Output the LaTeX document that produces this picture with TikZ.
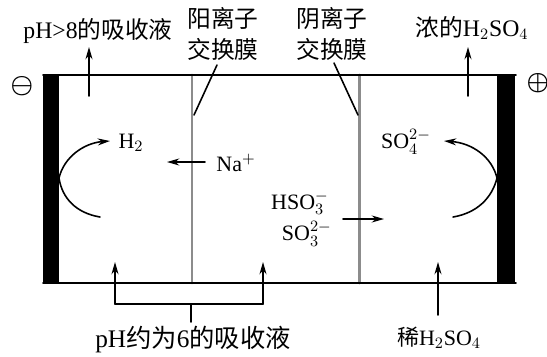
\documentclass[tikz,border=0pt]{standalone}
\usepackage{fontspec}
\setmainfont{Liberation Serif}
\newfontfamily\cjk{Noto Sans CJK SC}
\usetikzlibrary{arrows.meta}
\tikzset{
  flow/.style={line width=0.9pt,-{Stealth[length=7pt,width=4pt]}},
  lbl/.style={font=\fontsize{13.5}{17.6}\selectfont,inner sep=0pt},
  ionlbl/.style={font=\fontsize{12.5}{15}\selectfont,inner sep=0pt},
  membrane/.style={line width=1.7pt,black!45},
  electrode/.style={fill=black}
}
\begin{document}
\begin{tikzpicture}[line cap=round, line join=round, x=0.02cm, y=0.02cm]
                \useasboundingbox (0,0) rectangle (547,356);

                % cell
                \fill[electrode] (43,73) rectangle (59,281);
                \fill[electrode] (497,73) rectangle (515,281);
                \draw[membrane] (192,73) -- (192,281);
                \draw[membrane] (359,73) -- (359,281);
                \draw[line width=1pt] (43,281) -- (516,281);
                \draw[line width=1pt] (43,73) -- (516,73);

                % labels
                \node[lbl] (alkali) at (98,325) {pH>8{\cjk 的吸收液}};
                \node[lbl,align=center] (cation) at (223,322) {{\cjk 阳离子}\\{\cjk 交换膜}};
                \node[lbl,align=center] (anion) at (332,322) {{\cjk 阴离子}\\{\cjk 交换膜}};
                \node[lbl] (acid) at (472,328) {{\cjk 浓的}H$_2$SO$_4$};
                \node[lbl,font=\Large\boldmath] (minus) at (22,270) {$\ominus$};
                \node[lbl,font=\Large\boldmath] (plus) at (538,273) {$\oplus$};
                \node[ionlbl] (hydrogen) at (131,213) {H$_2$};
                \node[ionlbl] (sodium) at (236,193) {Na$^+$};
                \node[ionlbl] (sulfate) at (406,214) {SO$_4^{2-}$};
                \node[ionlbl,anchor=east] (bisulfite) at (329,153) {HSO$_3^-$};
                \node[ionlbl,anchor=east] (sulfite) at (332,122) {SO$_3^{2-}$};
                \node[lbl,font=\fontsize{14.4}{17.6}\selectfont] (feed) at (193,16) {pH{\cjk 约为}6{\cjk 的吸收液}};
                \node[ionlbl] (dilute) at (439,18) {{\cjk 稀}H$_2$SO$_4$};

                % free ends
                \coordinate (a1) at (89,260);
                \coordinate (a2) at (89,309);
                \coordinate (b1) at (468,260);
                \coordinate (b2) at (468,309);
                \coordinate (c1) at (217,291);
                \coordinate (c2) at (194,241);
                \coordinate (d1) at (334,293);
                \coordinate (d2) at (358,241);
                \coordinate (e1) at (205,194);
                \coordinate (e2) at (167,194);
                \coordinate (f1) at (343,137);
                \coordinate (f2) at (384,137);
                \coordinate (g1) at (115,94);
                \coordinate (g2) at (263,94);
                \coordinate (g3) at (115,52);
                \coordinate (g4) at (263,52);
                \coordinate (g5) at (191,52);
                \coordinate (g6) at (191,34);
                \coordinate (h1) at (438,41);
                \coordinate (h2) at (438,94);

                \draw[flow] (a1) -- (a2);
                \draw[flow] (b1) -- (b2);
                \draw[line width=0.9pt] (c1) -- (c2);
                \draw[line width=0.9pt] (d1) -- (d2);
                \draw[flow] (e1) -- (e2);
                \draw[flow] (f1) -- (f2);
                \draw[flow] (g3) -- (g1);
                \draw[flow] (g4) -- (g2);
                \draw[line width=0.9pt] (g3) -- (g4);
                \draw[line width=0.9pt] (g5) -- (g6);
                \draw[flow] (h1) -- (h2);

                % gas and ion curves at the electrodes
                \draw[line width=0.9pt] (100,139) .. controls (76,143) and (62,158) .. (59,178);
                \draw[flow] (59,178) .. controls (64,199) and (84,213) .. (110,215);
                \draw[line width=0.9pt] (453,139) .. controls (477,143) and (492,158) .. (497,178);
                \draw[flow] (497,178) .. controls (492,199) and (472,213) .. (444,215);
                
            \end{tikzpicture}
\end{document}
